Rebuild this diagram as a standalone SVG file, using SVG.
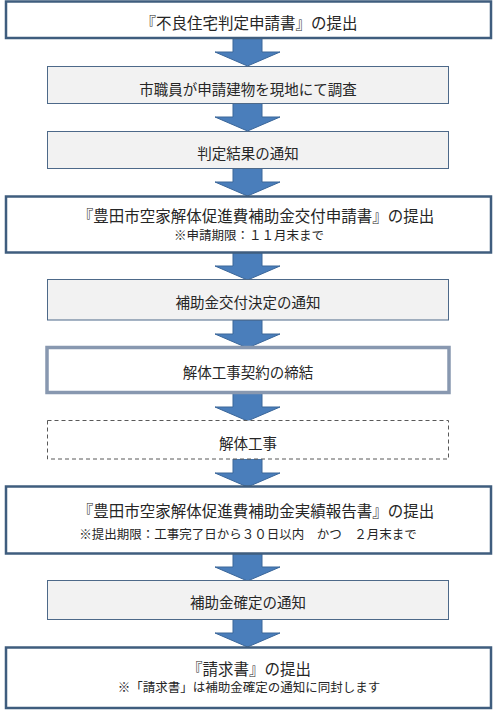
<svg xmlns="http://www.w3.org/2000/svg" width="497" height="713" viewBox="0 0 497 713">
<style>
.t{font-family:"Noto Sans CJK JP","Noto Sans CJK SC",sans-serif;fill:#262626;text-anchor:middle;dominant-baseline:central}
.big{font-size:15.5px}
.mid{font-size:14.5px}
.note{font-size:12.5px}
.main{fill:#ffffff;stroke:#3f5d7e;stroke-width:2.5}
.gray{fill:#f2f2f2;stroke:#4d6989;stroke-width:1}
.dash{fill:#ffffff;stroke:#595959;stroke-width:1;stroke-dasharray:4 3}
.dbl{fill:#ffffff;stroke:#8898b0;stroke-width:3.5}
.arr{fill:#4a7ebb;stroke:#3a6699;stroke-width:1}
</style>
<defs>
<path id="a" d="M233,0 H262 V14 H280 L247.5,28 L215,14 H233 Z"/>
</defs>
<rect width="497" height="713" fill="#ffffff"/>
<g id="connectors">
<use href="#a" class="arr" transform="translate(0,38)"/>
<use href="#a" class="arr" transform="translate(0,103)"/>
<use href="#a" class="arr" transform="translate(0,168)"/>
<use href="#a" class="arr" transform="translate(0,252)"/>
<use href="#a" class="arr" transform="translate(0,320)"/>
<use href="#a" class="arr" transform="translate(0,393)"/>
<use href="#a" class="arr" transform="translate(0,459)"/>
<use href="#a" class="arr" transform="translate(0,553)"/>
<use href="#a" class="arr" transform="translate(0,619)"/>
</g>
<g id="n1">
<rect class="main" x="6" y="1.5" width="485" height="36.5"/>
<text class="t big" x="249" y="21.5">『不良住宅判定申請書』の提出</text>
</g>
<g id="n2">
<rect class="gray" x="47.5" y="66.5" width="401" height="37"/>
<text class="t mid" x="248" y="88.5">市職員が申請建物を現地にて調査</text>
</g>
<g id="n3">
<rect class="gray" x="47.5" y="131.5" width="401" height="37"/>
<text class="t mid" x="248" y="152.5">判定結果の通知</text>
</g>
<g id="n4">
<rect class="main" x="6" y="196.5" width="485" height="56"/>
<text class="t big" x="256" y="215">『豊田市空家解体促進費補助金交付申請書』の提出</text>
<text class="t note" x="249" y="234.5">※申請期限：１１月末まで</text>
</g>
<g id="n5">
<rect class="gray" x="47.5" y="279.5" width="401" height="40.5"/>
<text class="t mid" x="248" y="301">補助金交付決定の通知</text>
</g>
<g id="n6">
<rect class="dbl" x="47" y="347.5" width="402" height="45"/>
<text class="t mid" x="248" y="371">解体工事契約の締結</text>
</g>
<g id="n7">
<rect class="dash" x="47.5" y="420.5" width="401" height="38.5"/>
<text class="t mid" x="248" y="442">解体工事</text>
</g>
<g id="n8">
<rect class="main" x="6" y="486.5" width="485" height="67"/>
<text class="t big" x="256" y="510">『豊田市空家解体促進費補助金実績報告書』の提出</text>
<text class="t note" x="248" y="533">※提出期限：工事完了日から３０日以内　かつ　２月末まで</text>
</g>
<g id="n9">
<rect class="gray" x="47.5" y="580.5" width="401" height="39"/>
<text class="t mid" x="248" y="601">補助金確定の通知</text>
</g>
<g id="n10">
<rect class="main" x="6" y="647.5" width="485" height="60.5"/>
<text class="t big" x="249" y="668">『請求書』の提出</text>
<text class="t note" x="249" y="686.5">※「請求書」は補助金確定の通知に同封します</text>
</g>
</svg>
